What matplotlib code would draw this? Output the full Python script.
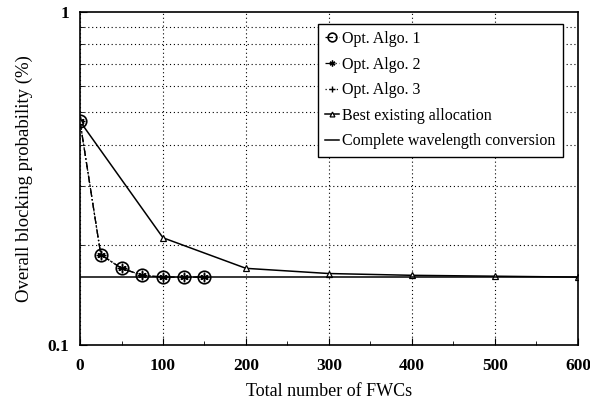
import matplotlib
matplotlib.use("Agg")
import matplotlib.pyplot as plt
from matplotlib.ticker import FixedLocator, NullFormatter

plt.rcParams['font.family'] = ['Liberation Serif', 'DejaVu Serif']

# Значення
fwc_opt = [0, 25, 50, 75, 100, 125, 150]
opt_algo1 = [0.47, 0.187, 0.170, 0.162, 0.160, 0.160, 0.160]
opt_algo2 = [0.47, 0.187, 0.170, 0.162, 0.160, 0.160, 0.160]
opt_algo3 = [0.47, 0.187, 0.170, 0.162, 0.160, 0.160, 0.160]
fwc_best = [0, 100, 200, 300, 400, 500, 600]
best_existing = [0.47, 0.21, 0.170, 0.164, 0.162, 0.161, 0.160]
complete_conv = 0.16

fig = plt.figure(figsize=(5.9, 4.05), dpi=100)
ax = fig.add_axes([0.1356, 0.148, 0.844, 0.822])

ax.plot(fwc_opt, opt_algo1, color="k", linestyle=(0, (6, 2, 1, 2)), lw=0.9,
        marker="o", markersize=9, markerfacecolor="none", markeredgewidth=1.2,
        label="Opt. Algo. 1")
ax.plot(fwc_opt, opt_algo2, color="k", linestyle=(0, (6, 2, 1, 2)), lw=0.9,
        marker=(6, 2, 0), markersize=6, markeredgewidth=1.0,
        label="Opt. Algo. 2")
ax.plot(fwc_opt, opt_algo3, color="k", linestyle=(0, (1, 2)), lw=0.9,
        marker="+", markersize=7, markeredgewidth=1.0,
        label="Opt. Algo. 3")
ax.plot(fwc_best, best_existing, color="k", lw=1.1,
        marker="^", markersize=5, markerfacecolor="white", markeredgewidth=0.9,
        label="Best existing allocation")
ax.axhline(complete_conv, color="k", lw=1.1, label="Complete wavelength conversion")

ax.set_yscale("log")
ax.set_xlim(0, 600)
ax.set_ylim(0.1, 1)
ax.set_xticks([0, 100, 200, 300, 400, 500, 600])
ax.xaxis.set_minor_locator(FixedLocator([50, 150, 250, 350, 450, 550]))
ax.set_yticks([0.1, 1])
ax.set_yticklabels(["0.1", "1"])
ax.yaxis.set_minor_locator(FixedLocator([0.2, 0.3, 0.4, 0.5, 0.6, 0.7, 0.8, 0.9]))
ax.yaxis.set_minor_formatter(NullFormatter())

ax.grid(True, which="major", axis="x", linestyle=(0, (1, 2.5)), color="k", lw=0.8)
ax.grid(True, which="minor", axis="y", linestyle=(0, (1, 2.5)), color="k", lw=0.8)
ax.set_axisbelow(True)

ax.tick_params(which="both", direction="in", labelsize=12.5)
ax.tick_params(axis="x", pad=9)
ax.tick_params(axis="y", pad=8)
ax.tick_params(which="major", length=5)
ax.tick_params(which="minor", length=3)
for lab in ax.get_xticklabels() + ax.get_yticklabels():
    lab.set_fontweight("bold")
for s in ax.spines.values():
    s.set_linewidth(1.2)

ax.set_xlabel("Total number of FWCs", fontsize=13, labelpad=7)
ax.set_ylabel("Overall blocking probability (%)", fontsize=13.5, labelpad=10)

leg = ax.legend(loc="upper right", bbox_to_anchor=(0.97, 0.965), fontsize=11.5,
                frameon=True, fancybox=False, framealpha=1, edgecolor="k",
                handlelength=0.9, handletextpad=0.2, labelspacing=0.6,
                borderpad=0.45, borderaxespad=0, markerscale=0.7)
leg.get_frame().set_linewidth(1.0)

fig.savefig("out.png", dpi=100)
